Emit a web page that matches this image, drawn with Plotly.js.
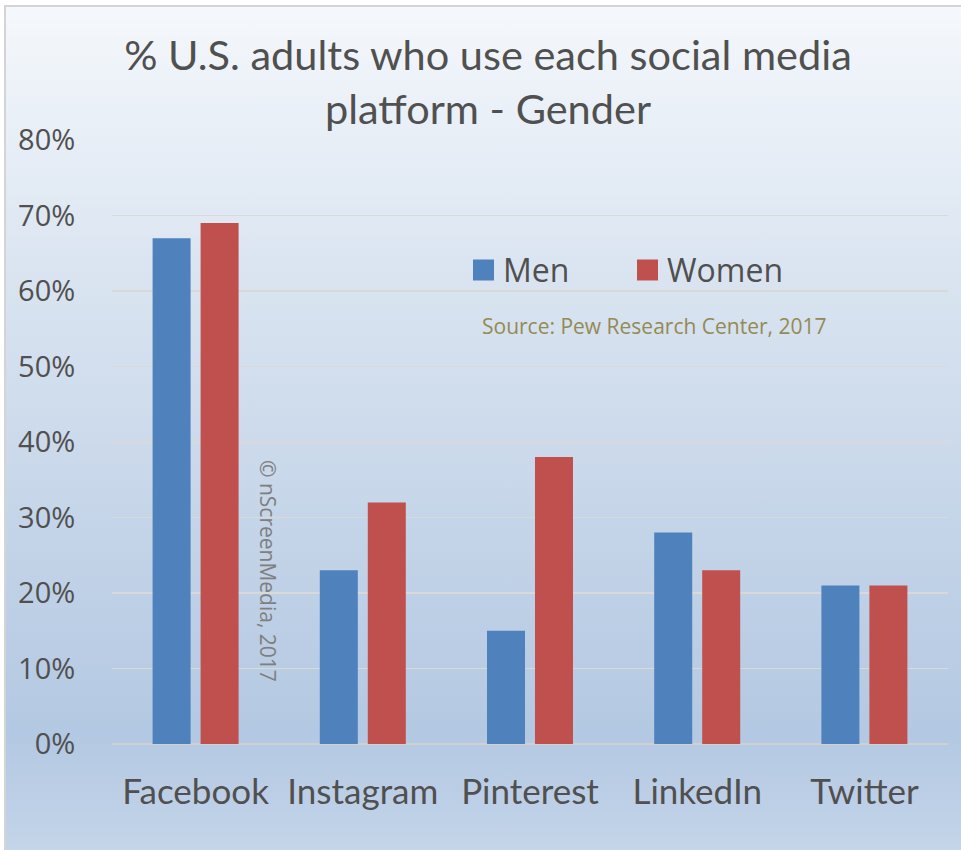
<!DOCTYPE html>
<html>
<head>
<meta charset="utf-8">
<script src="https://cdn.plot.ly/plotly-3.0.1.min.js"></script>
<style>
  html, body { margin: 0; padding: 0; background: #ffffff; overflow: hidden; }
  #bg {
    position: absolute; left: 4px; top: 5px; width: 970px; height: 860px;
    border: 2px solid #d4d4d4; box-sizing: border-box;
    background: linear-gradient(to bottom, #f5f8fc 0%, #dbe5f1 30%, #b3c8e2 85%, #c6d6ea 100%);
  }
  #chart { position: absolute; left: 0; top: 0; width: 961px; height: 850px; }
</style>
</head>
<body>
<div id="bg"></div>
<div id="chart"></div>
<script>
const categories = ["Facebook", "Instagram", "Pinterest", "LinkedIn", "Twitter"];
const seriesNames = ["Men", "Women"];
const menValues = [67, 23, 15, 28, 21];
const womenValues = [69, 32, 38, 23, 21];
const yTickValues = [0, 10, 20, 30, 40, 50, 60, 70, 80];
const yTickLabels = ["0%", "10%", "20%", "30%", "40%", "50%", "60%", "70%", "80%"];
const titleText = "% U.S. adults who use each social media<br>platform - Gender";
const sourceText = "Source: Pew Research Center, 2017";
const watermarkText = "© nScreenMedia, 2017";

const colors = ["#4f81bd", "#c0504d"];

const traces = [
  { type: "bar", name: seriesNames[0], x: categories, y: menValues, marker: { color: colors[0] }, showlegend: false, hoverinfo: "x+y" },
  { type: "bar", name: seriesNames[1], x: categories, y: womenValues, marker: { color: colors[1] }, showlegend: false, hoverinfo: "x+y" }
];

// legend drawn as squares + labels
const legendX = [(473 - 112) / 836, (637 - 112) / 836];
const legendY = (744 - 270) / 604;
const shapes = [];
const annotations = [];
seriesNames.forEach((n, i) => {
  shapes.push({
    type: "rect", xref: "paper", yref: "paper",
    x0: legendX[i], x1: legendX[i] + 21 / 836,
    y0: legendY - 10.5 / 604, y1: legendY + 10.5 / 604,
    fillcolor: colors[i], line: { width: 0 }
  });
  annotations.push({
    text: n, xref: "paper", yref: "paper", x: legendX[i] + 28 / 836, y: legendY + 1 / 604,
    xanchor: "left", yanchor: "middle", showarrow: false,
    font: { family: "Open Sans, sans-serif", size: 32, color: "#505050" }
  });
});
annotations.push({
  text: sourceText, xref: "paper", yref: "paper", x: (654 - 112) / 836, y: (744 - 326) / 604,
  xanchor: "center", yanchor: "middle", showarrow: false,
  font: { family: "Open Sans, sans-serif", size: 21, color: "#948a54" }
});
annotations.push({
  text: watermarkText, xref: "paper", yref: "paper", x: (268 - 112) / 836, y: (744 - 571) / 604,
  xanchor: "center", yanchor: "middle", showarrow: false, textangle: 90,
  font: { family: "Open Sans, sans-serif", size: 21, color: "#7f7f7f" }
});

const layout = {
  width: 961, height: 850,
  paper_bgcolor: "rgba(0,0,0,0)", plot_bgcolor: "rgba(0,0,0,0)",
  margin: { l: 112, r: 13, t: 140, b: 106 },
  barmode: "group", bargap: 0.426, bargroupgap: 0.208,
  title: {
    text: titleText, xref: "paper", x: (488 - 112) / 836, xanchor: "center",
    yref: "container", y: 1 - 70 / 850, yanchor: "middle",
    font: { family: "Lato, sans-serif", size: 41.5, color: "#505050" }
  },
  xaxis: {
    type: "category", showgrid: false, zeroline: false, showline: false,
    ticks: "outside", ticklen: 17, tickcolor: "rgba(0,0,0,0)",
    tickfont: { family: "Lato, sans-serif", size: 35, color: "#505050" }
  },
  yaxis: {
    range: [0, 80], tickvals: yTickValues, ticktext: yTickLabels,
    showgrid: true, gridcolor: "#d9d9d9", gridwidth: 1.5,
    zeroline: true, zerolinecolor: "#d0d0d0", zerolinewidth: 2.5,
    ticks: "outside", ticklen: 30, tickcolor: "rgba(0,0,0,0)",
    tickfont: { family: "Open Sans, sans-serif", size: 29, color: "#505050" },
    fixedrange: true
  },
  shapes: shapes,
  annotations: annotations
};

Plotly.newPlot("chart", traces, layout, { displayModeBar: false, staticPlot: true });
</script>
</body>
</html>
